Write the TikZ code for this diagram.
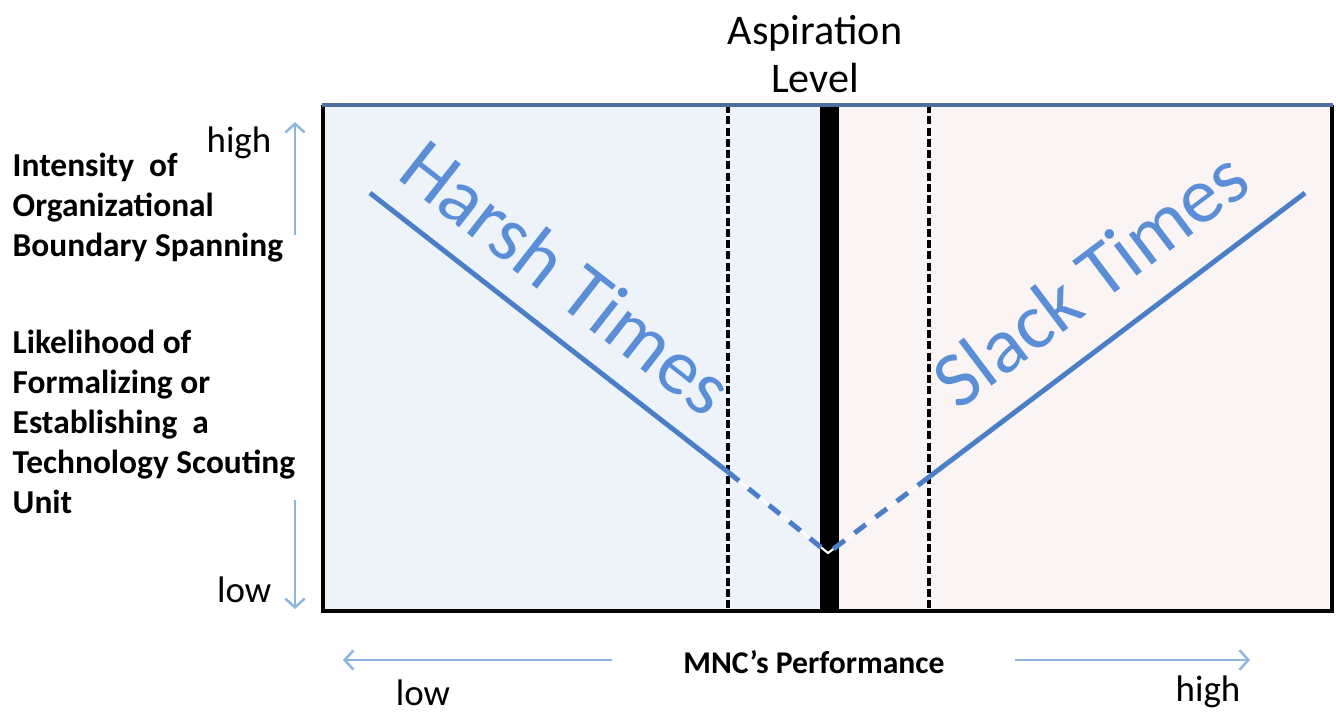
\documentclass[tikz,border=0pt]{standalone}
\usepackage{fontspec}
\setmainfont{Carlito}
\usepackage{tikz}
\usetikzlibrary{arrows.meta}
\definecolor{harshbg}{HTML}{EEF3FA}
\definecolor{slackbg}{HTML}{FAF5F4}
\definecolor{curveblue}{HTML}{4A7EC6}
\definecolor{labelblue}{HTML}{5A8ED6}
\definecolor{axisblue}{HTML}{8EB4E0}
\definecolor{topline}{HTML}{4E6E9E}

\begin{document}
\begin{tikzpicture}[x=0.01cm, y=-0.01cm,
	frame/.style={draw=black, line width=0.9pt},
	guide/.style={draw=black, line width=0.9pt, dash pattern=on 2.3pt off 0.9pt},
	curve/.style={draw=curveblue, line width=1.4pt},
	curvedash/.style={draw=curveblue, line width=1.4pt, dash pattern=on 4pt off 3.5pt},
	axis/.style={draw=axisblue, line width=0.7pt, -{Straight Barb[length=2.5pt,width=5.5pt]}},
	sidetext/.style={font=\bfseries\fontsize{9.5}{11.4}\selectfont, align=left, anchor=west, inner sep=0pt},
	tick/.style={font=\fontsize{10.5}{12}\selectfont, inner sep=0pt},
	times/.style={font=\fontsize{22.5}{27}\selectfont, text=labelblue, inner sep=0pt}]
	\useasboundingbox (0,0) rectangle (1336,715);

	% regions
	\fill[harshbg] (323,105) rectangle (829,611);
	\fill[slackbg] (829,105) rectangle (1332,611);

	% aspiration bar and the two guides
	\fill[black] (820,105) rectangle (839,611);
	\draw[guide] (728,105) -- (728,611);
	\draw[guide] (929,105) -- (929,611);

	% frame
	\draw[frame] (323,105) -- (323,611) -- (1332,611) -- (1332,105);
	\draw[draw=topline, line width=0.9pt] (322,105) -- (1333,105);

	% curve
	\coordinate (harshtop) at (370,193);
	\coordinate (harshcut) at (728,472);
	\coordinate (apex) at (828,553);
	\coordinate (slackcut) at (929,477);
	\coordinate (slacktop) at (1305,193);
	\draw[curve] (harshtop) -- (harshcut);
	\draw[curve] (slackcut) -- (slacktop);
	\draw[draw=white, line width=0.6pt] (harshcut) -- (apex) -- (slackcut);
	\draw[curvedash] (harshcut) -- (apex);
	\draw[curvedash] (slackcut) -- (apex);

	\node[times, rotate=-38] (harsh) at (567,277) {Harsh Times};
	\node[times, rotate=37] (slack) at (1090,278) {Slack Times};

	\node[font=\fontsize{12}{13.7}\selectfont, align=center, inner sep=0pt] (aspiration) at (815,54) {Aspiration\\Level};

	% vertical axis
	\node[sidetext] (intensity) at (12,208) {Intensity\ \ of\\Organizational\\Boundary Spanning};
	\node[sidetext] (likelihood) at (12,422) {Likelihood of\\Formalizing or\\Establishing\ \ a\\Technology Scouting\\Unit};
	\node[tick, anchor=east] (yhigh) at (272,143) {high};
	\node[tick, anchor=east] (ylow) at (272,590) {low};
	\coordinate (yup0) at (295,235);
	\coordinate (yup1) at (295,122);
	\coordinate (ydown0) at (295,500);
	\coordinate (ydown1) at (295,609);
	\draw[axis] (yup0) -- (yup1);
	\draw[axis] (ydown0) -- (ydown1);

	% horizontal axis
	\node[font=\bfseries\fontsize{9}{11}\selectfont, inner sep=0pt] (perf) at (814,662) {MNC’s Performance};
	\coordinate (xleft0) at (612,660);
	\coordinate (xleft1) at (343,660);
	\coordinate (xright0) at (1015,660);
	\coordinate (xright1) at (1250,660);
	\draw[axis] (xleft0) -- (xleft1);
	\draw[axis] (xright0) -- (xright1);
	\node[tick] (xlow) at (423,693) {low};
	\node[tick] (xhigh) at (1208,692) {high};
\end{tikzpicture}
\end{document}
